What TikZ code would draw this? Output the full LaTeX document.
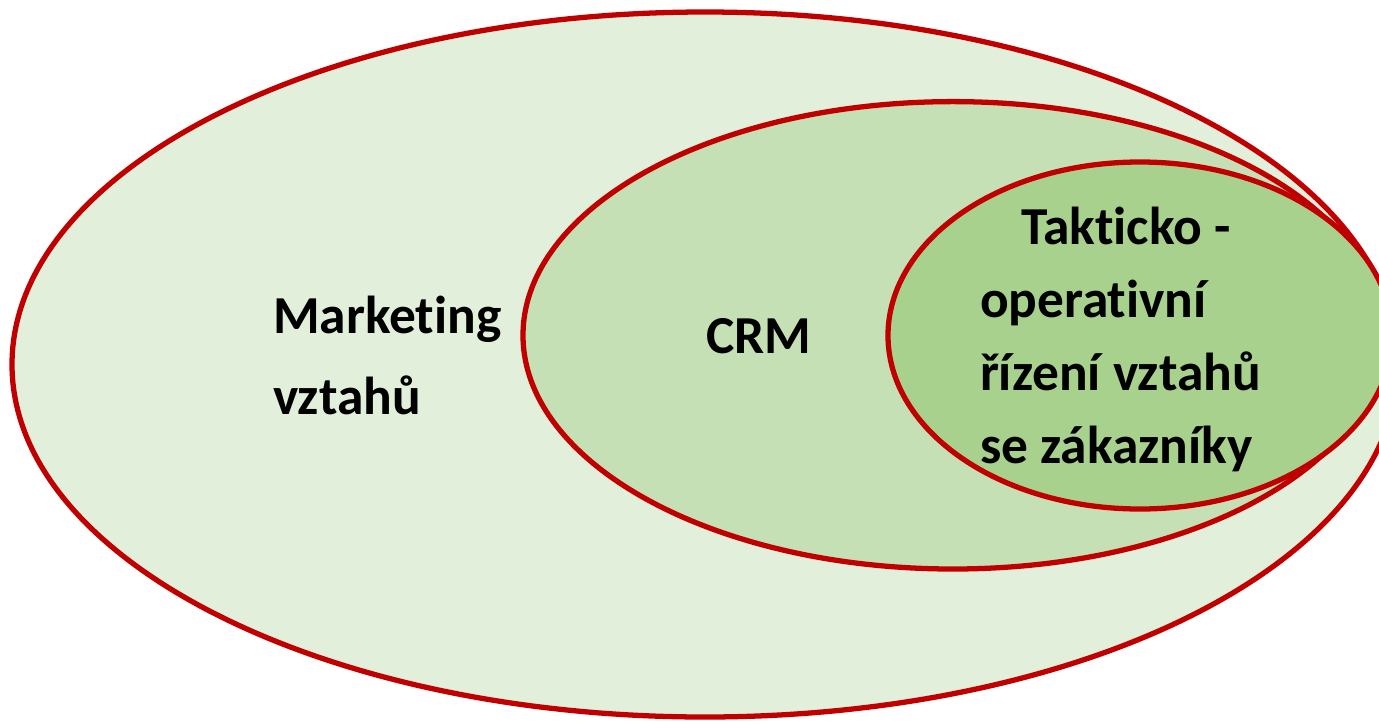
\documentclass[tikz,border=0pt]{standalone}
\usepackage{fontspec}
\setmainfont{Carlito}[Ligatures=NoCommon]
\usepackage{tikz}
\usetikzlibrary{positioning}
\definecolor{ringred}{HTML}{C00000}
\definecolor{outergreen}{HTML}{E2EFDA}
\definecolor{midgreen}{HTML}{C5E0B4}
\definecolor{innergreen}{HTML}{A9D18E}

\begin{document}
\begin{tikzpicture}[x=0.02cm, y=-0.02cm]
        % sizes in px of the 1379x721 frame
        \tikzstyle{ring}=[draw=ringred, line width=3pt]
        \tikzstyle{every node}=[inner sep=0pt, outer sep=0pt, anchor=base west, align=left,
                font=\bfseries\fontsize{30.4}{46}\selectfont]
        \useasboundingbox (0,0) rectangle (1379,721);
        \clip (0,0) rectangle (1379,721);

        % rings, big to small
        \draw[ring, fill=outergreen] (705,364.5) ellipse [x radius=693, y radius=352.5];
        \draw[ring, fill=midgreen] (953,335.3) ellipse [x radius=430, y radius=233.7];
        \draw[ring, fill=innergreen] (1140,335.5) ellipse [x radius=252, y radius=173.5];

        % base of a node = base of its last line
        \node (marketing) at (273,414) {Marketing\\vztahů};
        \node (crm) at (706,353) {CRM};
        \node (taktika) [font=\bfseries\fontsize{30.4}{41.5}\selectfont] at (980,463)
                {\hspace*{0.82cm}Takticko -\\operativní\\řízení vztahů\\se zákazníky};
\end{tikzpicture}
\end{document}
